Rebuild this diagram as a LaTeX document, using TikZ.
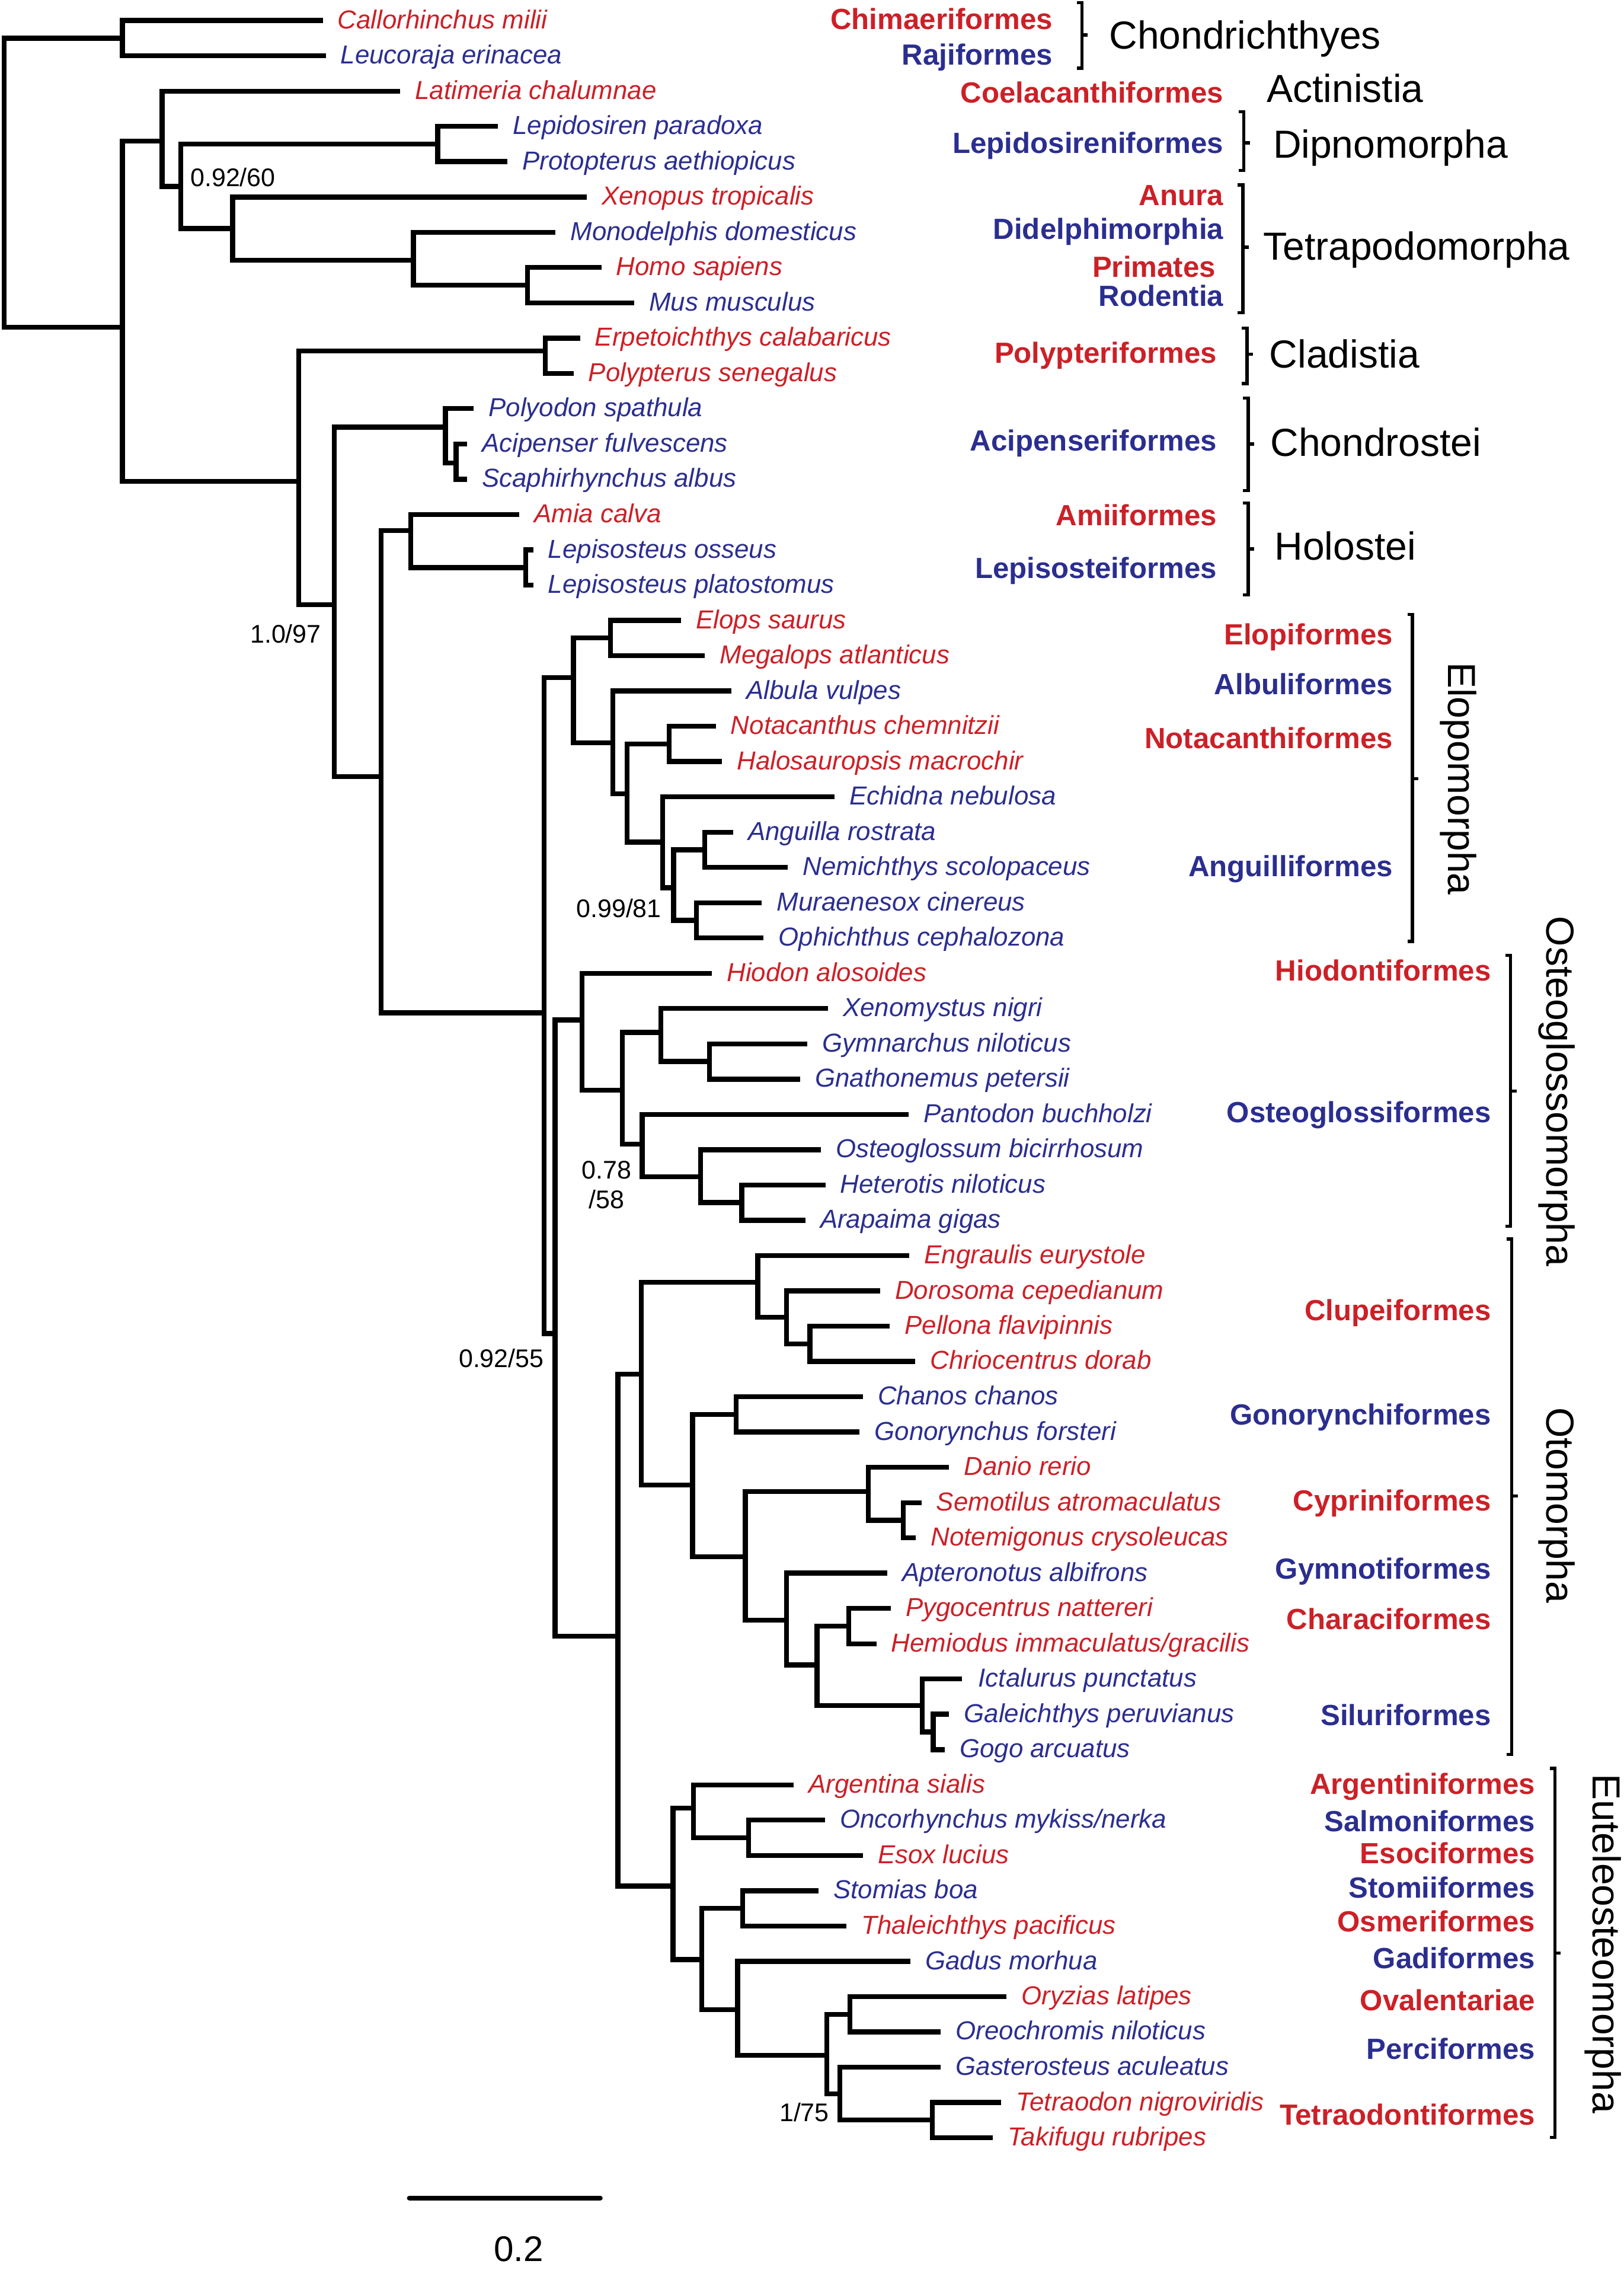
\documentclass[tikz,border=0pt]{standalone}
\usepackage{fontspec}
\setmainfont{Liberation Sans}
\usetikzlibrary{positioning}
\definecolor{sred}{RGB}{204,32,39}
\definecolor{sblue}{RGB}{43,46,143}
\tikzset{%
    br/.style={line width=0.085cm},
    brk/.style={line width=0.055cm},
    sp/.style={font=\fontsize{12.7}{15}\selectfont\itshape, inner sep=0pt, text height=7.82pt, text depth=0pt},
    spr/.style={sp, text=sred},
    spb/.style={sp, text=sblue},
    ord/.style={font=\fontsize{14.25}{17}\selectfont\bfseries, inner sep=0pt, anchor=base east},
    ordr/.style={ord, text=sred},
    ordb/.style={ord, text=sblue},
    cla/.style={font=\fontsize{19.1}{23}\selectfont, inner sep=0pt, anchor=base west},
    clv/.style={font=\fontsize{19.1}{23}\selectfont, inner sep=0pt, rotate=-90},
    sup/.style={font=\fontsize{12.45}{14.44}\selectfont, inner sep=0pt},
}
\begin{document}
\begin{tikzpicture}[x=0.025cm, y=-0.025cm]
    \useasboundingbox (0,0) rectangle (1115,1565.6);
    % tips
    \coordinate (Cmil) at (221.7,14.1);
    \coordinate (Leri) at (223.7,38.3);
    \coordinate (Lcha) at (274.8,62.6);
    \coordinate (Lpar) at (342,86.8);
    \coordinate (Paet) at (348.5,111.0);
    \coordinate (Xtro) at (403,135.3);
    \coordinate (Mdom) at (381.5,159.5);
    \coordinate (Hsap) at (413,183.7);
    \coordinate (Mmus) at (435.5,207.9);
    \coordinate (Ecal) at (398.4,232.2);
    \coordinate (Psen) at (393.9,256.4);
    \coordinate (Pspa) at (325.3,280.6);
    \coordinate (Aful) at (320.8,304.9);
    \coordinate (Salb) at (320.8,329.1);
    \coordinate (Acal) at (356.6,353.3);
    \coordinate (Loss) at (366.2,377.6);
    \coordinate (Lpla) at (366.2,401.8);
    \coordinate (Esau) at (467.7,426.0);
    \coordinate (Matl) at (484.1,450.2);
    \coordinate (Avul) at (502.3,474.5);
    \coordinate (Nche) at (491.6,498.7);
    \coordinate (Hmac) at (496.0,522.9);
    \coordinate (Eneb) at (573.1,547.2);
    \coordinate (Aros) at (503.5,571.4);
    \coordinate (Nsco) at (541.1,595.6);
    \coordinate (Mcin) at (523.2,619.9);
    \coordinate (Ocep) at (524.4,644.1);
    \coordinate (Halo) at (489,668.3);
    \coordinate (Xnig) at (568.6,692.5);
    \coordinate (Gnil) at (554.6,716.8);
    \coordinate (Gpet) at (549.6,741.0);
    \coordinate (Pbuc) at (624.1,765.2);
    \coordinate (Obic) at (563.7,789.5);
    \coordinate (Hnil) at (566.9,813.7);
    \coordinate (Agig) at (553.1,837.9);
    \coordinate (Eeur) at (624.6,862.2);
    \coordinate (Dcep) at (604.4,886.4);
    \coordinate (Pfla) at (611.1,910.6);
    \coordinate (Cdor) at (628.6,934.8);
    \coordinate (Ccha) at (592.6,959.1);
    \coordinate (Gfor) at (590.4,983.3);
    \coordinate (Drer) at (651.8,1007.5);
    \coordinate (Satr) at (632.8,1031.8);
    \coordinate (Ncry) at (629.1,1056.0);
    \coordinate (Aalb) at (609.3,1080.2);
    \coordinate (Pnat) at (611.8,1104.5);
    \coordinate (Himm) at (601.9,1128.7);
    \coordinate (Ipun) at (660.5,1152.9);
    \coordinate (Gper) at (651.8,1177.1);
    \coordinate (Garc) at (648.8,1201.4);
    \coordinate (Asia) at (545.2,1225.6);
    \coordinate (Omyk) at (566.6,1249.8);
    \coordinate (Eluc) at (592.6,1274.1);
    \coordinate (Sboa) at (562.2,1298.3);
    \coordinate (Tpac) at (581.4,1322.5);
    \coordinate (Gmor) at (625.3,1346.8);
    \coordinate (Olat) at (691.2,1371.0);
    \coordinate (Onil) at (646.1,1395.2);
    \coordinate (Gacu) at (646.1,1419.4);
    \coordinate (Tnig) at (687.7,1443.7);
    \coordinate (Trub) at (681.8,1467.9);
    % species names
    \node[spr, right=0.25cm of Cmil] (nCmil) {Callorhinchus milii};
    \node[spb, right=0.25cm of Leri] (nLeri) {Leucoraja erinacea};
    \node[spr, right=0.25cm of Lcha] (nLcha) {Latimeria chalumnae};
    \node[spb, right=0.25cm of Lpar] (nLpar) {Lepidosiren paradoxa};
    \node[spb, right=0.25cm of Paet] (nPaet) {Protopterus aethiopicus};
    \node[spr, right=0.25cm of Xtro] (nXtro) {Xenopus tropicalis};
    \node[spb, right=0.25cm of Mdom] (nMdom) {Monodelphis domesticus};
    \node[spr, right=0.25cm of Hsap] (nHsap) {Homo sapiens};
    \node[spb, right=0.25cm of Mmus] (nMmus) {Mus musculus};
    \node[spr, right=0.25cm of Ecal] (nEcal) {Erpetoichthys calabaricus};
    \node[spr, right=0.25cm of Psen] (nPsen) {Polypterus senegalus};
    \node[spb, right=0.25cm of Pspa] (nPspa) {Polyodon spathula};
    \node[spb, right=0.25cm of Aful] (nAful) {Acipenser fulvescens};
    \node[spb, right=0.25cm of Salb] (nSalb) {Scaphirhynchus albus};
    \node[spr, right=0.25cm of Acal] (nAcal) {Amia calva};
    \node[spb, right=0.25cm of Loss] (nLoss) {Lepisosteus osseus};
    \node[spb, right=0.25cm of Lpla] (nLpla) {Lepisosteus platostomus};
    \node[spr, right=0.25cm of Esau] (nEsau) {Elops saurus};
    \node[spr, right=0.25cm of Matl] (nMatl) {Megalops atlanticus};
    \node[spb, right=0.25cm of Avul] (nAvul) {Albula vulpes};
    \node[spr, right=0.25cm of Nche] (nNche) {Notacanthus chemnitzii};
    \node[spr, right=0.25cm of Hmac] (nHmac) {Halosauropsis macrochir};
    \node[spb, right=0.25cm of Eneb] (nEneb) {Echidna nebulosa};
    \node[spb, right=0.25cm of Aros] (nAros) {Anguilla rostrata};
    \node[spb, right=0.25cm of Nsco] (nNsco) {Nemichthys scolopaceus};
    \node[spb, right=0.25cm of Mcin] (nMcin) {Muraenesox cinereus};
    \node[spb, right=0.25cm of Ocep] (nOcep) {Ophichthus cephalozona};
    \node[spr, right=0.25cm of Halo] (nHalo) {Hiodon alosoides};
    \node[spb, right=0.25cm of Xnig] (nXnig) {Xenomystus nigri};
    \node[spb, right=0.25cm of Gnil] (nGnil) {Gymnarchus niloticus};
    \node[spb, right=0.25cm of Gpet] (nGpet) {Gnathonemus petersii};
    \node[spb, right=0.25cm of Pbuc] (nPbuc) {Pantodon buchholzi};
    \node[spb, right=0.25cm of Obic] (nObic) {Osteoglossum bicirrhosum};
    \node[spb, right=0.25cm of Hnil] (nHnil) {Heterotis niloticus};
    \node[spb, right=0.25cm of Agig] (nAgig) {Arapaima gigas};
    \node[spr, right=0.25cm of Eeur] (nEeur) {Engraulis eurystole};
    \node[spr, right=0.25cm of Dcep] (nDcep) {Dorosoma cepedianum};
    \node[spr, right=0.25cm of Pfla] (nPfla) {Pellona flavipinnis};
    \node[spr, right=0.25cm of Cdor] (nCdor) {Chriocentrus dorab};
    \node[spb, right=0.25cm of Ccha] (nCcha) {Chanos chanos};
    \node[spb, right=0.25cm of Gfor] (nGfor) {Gonorynchus forsteri};
    \node[spr, right=0.25cm of Drer] (nDrer) {Danio rerio};
    \node[spr, right=0.25cm of Satr] (nSatr) {Semotilus atromaculatus};
    \node[spr, right=0.25cm of Ncry] (nNcry) {Notemigonus crysoleucas};
    \node[spb, right=0.25cm of Aalb] (nAalb) {Apteronotus albifrons};
    \node[spr, right=0.25cm of Pnat] (nPnat) {Pygocentrus nattereri};
    \node[spr, right=0.25cm of Himm] (nHimm) {Hemiodus immaculatus/gracilis};
    \node[spb, right=0.28cm of Ipun] (nIpun) {Ictalurus punctatus};
    \node[spb, right=0.25cm of Gper] (nGper) {Galeichthys peruvianus};
    \node[spb, right=0.25cm of Garc] (nGarc) {Gogo arcuatus};
    \node[spr, right=0.25cm of Asia] (nAsia) {Argentina sialis};
    \node[spb, right=0.25cm of Omyk] (nOmyk) {Oncorhynchus mykiss/nerka};
    \node[spr, right=0.25cm of Eluc] (nEluc) {Esox lucius};
    \node[spb, right=0.25cm of Sboa] (nSboa) {Stomias boa};
    \node[spr, right=0.25cm of Tpac] (nTpac) {Thaleichthys pacificus};
    \node[spb, right=0.25cm of Gmor] (nGmor) {Gadus morhua};
    \node[spr, right=0.25cm of Olat] (nOlat) {Oryzias latipes};
    \node[spb, right=0.25cm of Onil] (nOnil) {Oreochromis niloticus};
    \node[spb, right=0.25cm of Gacu] (nGacu) {Gasterosteus aculeatus};
    \node[spr, right=0.25cm of Tnig] (nTnig) {Tetraodon nigroviridis};
    \node[spr, right=0.25cm of Trub] (nTrub) {Takifugu rubripes};
    % inner nodes
    \coordinate (root) at (2.9,125);
    \coordinate (Chon) at (84,26.2);
    \coordinate (Oste) at (84,224.7);
    \coordinate (Sarc) at (111.3,96.9);
    \coordinate (DiTe) at (124.2,128);
    \coordinate (Dipn) at (300.6,98.9);
    \coordinate (Tetr) at (159.8,157);
    \coordinate (Amni) at (284,178.6);
    \coordinate (Euar) at (362.3,195.8);
    \coordinate (Acti) at (205.2,330.6);
    \coordinate (Clad) at (374.5,241);
    \coordinate (Actp) at (229.7,415.2);
    \coordinate (Chos) at (305.9,293.3);
    \coordinate (Acip) at (313.3,318);
    \coordinate (Neop) at (261.7,533.3);
    \coordinate (Holo) at (282,364.2);
    \coordinate (Lepi) at (361.1,389.7);
    \coordinate (Tele) at (373.8,695.5);
    \coordinate (Elop) at (393.9,465.2);
    \coordinate (Elpf) at (419.3,438.1);
    \coordinate (Eb) at (420.8,510);
    \coordinate (Ec) at (430.6,545);
    \coordinate (Nota) at (459.6,510.8);
    \coordinate (Angu) at (455.1,578.2);
    \coordinate (Ab) at (462.6,609.6);
    \coordinate (Ac) at (484.1,583.5);
    \coordinate (Ad) at (478.4,632);
    \coordinate (Oscl) at (381.2,915.7);
    \coordinate (Ostm) at (399.7,700.4);
    \coordinate (Ob) at (427.3,748.6);
    \coordinate (Oc) at (454,708.9);
    \coordinate (Oe) at (487.2,728.9);
    \coordinate (Od) at (441.1,785.7);
    \coordinate (Of) at (481.1,808);
    \coordinate (Og) at (509.4,825.8);
    \coordinate (Clce) at (424.4,1123.6);
    \coordinate (Otom) at (440.4,943.5);
    \coordinate (Clup) at (520.5,880.4);
    \coordinate (Cb) at (540.3,904.5);
    \coordinate (Cc) at (556.3,922.7);
    \coordinate (Osta) at (475.7,1019.6);
    \coordinate (Gony) at (505.7,971.2);
    \coordinate (Otop) at (511.9,1069);
    \coordinate (Cypr) at (596.3,1024.1);
    \coordinate (Cyb) at (620.4,1043.9);
    \coordinate (Chph) at (540.3,1112.4);
    \coordinate (Chb) at (561.2,1143.3);
    \coordinate (Chrf) at (583,1116.6);
    \coordinate (Silu) at (633.5,1171.1);
    \coordinate (Sib) at (640.9,1189.3);
    \coordinate (Eute) at (462.2,1295.1);
    \coordinate (Prot) at (476.2,1241.6);
    \coordinate (Saes) at (514.1,1262);
    \coordinate (Neot) at (482,1345.6);
    \coordinate (Stom) at (510.1,1310.4);
    \coordinate (Nb) at (506.6,1380);
    \coordinate (Perc) at (567.8,1411.4);
    \coordinate (Pb) at (583.7,1383.1);
    \coordinate (Pc) at (576.7,1437.7);
    \coordinate (Tetd) at (640.2,1455.8);
    % branches
    \draw[br] (Cmil) -| (Chon) |- (Leri);
    \draw[br] (Chon) -| (root) |- (Oste);
    \draw[br] (Sarc) -| (Oste) |- (Acti);
    \draw[br] (Lcha) -| (Sarc) |- (DiTe);
    \draw[br] (Dipn) -| (DiTe) |- (Tetr);
    \draw[br] (Lpar) -| (Dipn) |- (Paet);
    \draw[br] (Xtro) -| (Tetr) |- (Amni);
    \draw[br] (Mdom) -| (Amni) |- (Euar);
    \draw[br] (Hsap) -| (Euar) |- (Mmus);
    \draw[br] (Clad) -| (Acti) |- (Actp);
    \draw[br] (Ecal) -| (Clad) |- (Psen);
    \draw[br] (Chos) -| (Actp) |- (Neop);
    \draw[br] (Pspa) -| (Chos) |- (Acip);
    \draw[br] (Aful) -| (Acip) |- (Salb);
    \draw[br] (Holo) -| (Neop) |- (Tele);
    \draw[br] (Acal) -| (Holo) |- (Lepi);
    \draw[br] (Loss) -| (Lepi) |- (Lpla);
    \draw[br] (Elop) -| (Tele) |- (Oscl);
    \draw[br] (Elpf) -| (Elop) |- (Eb);
    \draw[br] (Esau) -| (Elpf) |- (Matl);
    \draw[br] (Avul) -| (Eb) |- (Ec);
    \draw[br] (Nota) -| (Ec) |- (Angu);
    \draw[br] (Nche) -| (Nota) |- (Hmac);
    \draw[br] (Eneb) -| (Angu) |- (Ab);
    \draw[br] (Ac) -| (Ab) |- (Ad);
    \draw[br] (Aros) -| (Ac) |- (Nsco);
    \draw[br] (Mcin) -| (Ad) |- (Ocep);
    \draw[br] (Ostm) -| (Oscl) |- (Clce);
    \draw[br] (Halo) -| (Ostm) |- (Ob);
    \draw[br] (Oc) -| (Ob) |- (Od);
    \draw[br] (Xnig) -| (Oc) |- (Oe);
    \draw[br] (Gnil) -| (Oe) |- (Gpet);
    \draw[br] (Pbuc) -| (Od) |- (Of);
    \draw[br] (Obic) -| (Of) |- (Og);
    \draw[br] (Hnil) -| (Og) |- (Agig);
    \draw[br] (Otom) -| (Clce) |- (Eute);
    \draw[br] (Clup) -| (Otom) |- (Osta);
    \draw[br] (Eeur) -| (Clup) |- (Cb);
    \draw[br] (Dcep) -| (Cb) |- (Cc);
    \draw[br] (Pfla) -| (Cc) |- (Cdor);
    \draw[br] (Gony) -| (Osta) |- (Otop);
    \draw[br] (Ccha) -| (Gony) |- (Gfor);
    \draw[br] (Cypr) -| (Otop) |- (Chph);
    \draw[br] (Drer) -| (Cypr) |- (Cyb);
    \draw[br] (Satr) -| (Cyb) |- (Ncry);
    \draw[br] (Aalb) -| (Chph) |- (Chb);
    \draw[br] (Chrf) -| (Chb) |- (Silu);
    \draw[br] (Pnat) -| (Chrf) |- (Himm);
    \draw[br] (Ipun) -| (Silu) |- (Sib);
    \draw[br] (Gper) -| (Sib) |- (Garc);
    \draw[br] (Prot) -| (Eute) |- (Neot);
    \draw[br] (Asia) -| (Prot) |- (Saes);
    \draw[br] (Omyk) -| (Saes) |- (Eluc);
    \draw[br] (Stom) -| (Neot) |- (Nb);
    \draw[br] (Sboa) -| (Stom) |- (Tpac);
    \draw[br] (Gmor) -| (Nb) |- (Perc);
    \draw[br] (Pb) -| (Perc) |- (Pc);
    \draw[br] (Olat) -| (Pb) |- (Onil);
    \draw[br] (Gacu) -| (Pc) |- (Tetd);
    \draw[br] (Tnig) -| (Tetd) |- (Trub);
    % support values
    \node[sup, anchor=base west] (s1) at (130.5,128) {0.92/60};
    \node[sup, anchor=base east] (s2) at (220.8,441.3) {1.0/97};
    \node[sup, anchor=base east] (s3) at (454.5,629.8) {0.99/81};
    \node[sup, align=center] (s4) at (416.6,813.6) {0.78\\/58};
    \node[sup, anchor=base east] (s5) at (373.8,939) {0.92/55};
    \node[sup, anchor=base east] (s6) at (569.7,1456.8) {1/75};
    % orders
    \node[ordr] (oChi) at (723.3,20.0) {Chimaeriformes};
    \node[ordb] (oRaj) at (723.3,44.6) {Rajiformes};
    \node[ordr] (oCoe) at (840.5,70.8) {Coelacanthiformes};
    \node[ordb] (oLep) at (840.5,105.3) {Lepidosireniformes};
    \node[ordr] (oAnu) at (840.5,140.9) {Anura};
    \node[ordb] (oDid) at (840.5,164.4) {Didelphimorphia};
    \node[ordr] (oPri) at (835.2,190.4) {Primates};
    \node[ordb] (oRod) at (840.5,210.4) {Rodentia};
    \node[ordr] (oPol) at (835.9,249.2) {Polypteriformes};
    \node[ordb] (oAci) at (835.9,309.4) {Acipenseriformes};
    \node[ordr] (oAmi) at (835.9,360.7) {Amiiformes};
    \node[ordb] (oLps) at (835.9,397.1) {Lepisosteiformes};
    \node[ordr] (oElo) at (956.8,442.8) {Elopiformes};
    \node[ordb] (oAlb) at (956.8,477) {Albuliformes};
    \node[ordr] (oNot) at (956.8,514) {Notacanthiformes};
    \node[ordb] (oAng) at (956.8,601.8) {Anguilliformes};
    \node[ordr] (oHio) at (1024.3,673.7) {Hiodontiformes};
    \node[ordb] (oOst) at (1024.3,770.8) {Osteoglossiformes};
    \node[ordr] (oClu) at (1024.3,906.6) {Clupeiformes};
    \node[ordb] (oGon) at (1024.3,978.5) {Gonorynchiformes};
    \node[ordr] (oCyp) at (1024.3,1037.5) {Cypriniformes};
    \node[ordb] (oGym) at (1024.3,1084.4) {Gymnotiformes};
    \node[ordr] (oCha) at (1024.3,1118.9) {Characiformes};
    \node[ordb] (oSil) at (1024.3,1184.9) {Siluriformes};
    \node[ordr] (oArg) at (1054.7,1231.9) {Argentiniformes};
    \node[ordb] (oSal) at (1054.7,1257.6) {Salmoniformes};
    \node[ordr] (oEso) at (1054.7,1279.6) {Esociformes};
    \node[ordb] (oSto) at (1054.7,1303.3) {Stomiiformes};
    \node[ordr] (oOsm) at (1054.7,1326.6) {Osmeriformes};
    \node[ordb] (oGad) at (1054.7,1351.5) {Gadiformes};
    \node[ordr] (oOva) at (1054.7,1380.6) {Ovalentariae};
    \node[ordb] (oPer) at (1054.7,1413.8) {Perciformes};
    \node[ordr] (oTet) at (1054.7,1459.1) {Tetraodontiformes};
    % brackets
    \draw[brk] (739.6,1.8) -| (743.1,46.8) -- (739.6,46.8) (743.1,24.1) -- (747.1,24.1);
    \draw[brk] (850.8,76.7) -| (854.3,117.1) -- (850.8,117.1) (854.3,98.1) -- (858.3,98.1);
    \draw[brk] (850.1,127) -| (853.6,214.7) -- (850.1,214.7) (853.6,169.8) -- (857.6,169.8);
    \draw[brk] (853,225.4) -| (856.5,263.4) -- (853,263.4) (856.5,243.3) -- (860.5,243.3);
    \draw[brk] (853.7,273.3) -| (857.2,336.9) -- (853.7,336.9) (857.2,304.9) -- (861.2,304.9);
    \draw[brk] (853.7,345.5) -| (857.2,408.6) -- (853.7,408.6) (857.2,377) -- (861.2,377);
    \draw[brk] (966.6,421.9) -| (970.1,646.4) -- (966.6,646.4) (970.1,534.6) -- (974.1,534.6);
    \draw[brk] (1034,656) -| (1037.5,842.1) -- (1034,842.1) (1037.5,749.2) -- (1041.5,749.2);
    \draw[brk] (1034.8,850.8) -| (1038.3,1204.7) -- (1034.8,1204.7) (1038.3,1027.3) -- (1042.3,1027.3);
    \draw[brk] (1064.5,1214.3) -| (1068,1467.7) -- (1064.5,1467.7) (1068,1341) -- (1072,1341);
    % groups
    \node[cla] (gChi) at (761.5,33.4) {Chondrichthyes};
    \node[cla] (gAct) at (869.8,70.1) {Actinistia};
    \node[cla] (gDip) at (874.1,108.3) {Dipnomorpha};
    \node[cla] (gTet) at (867.3,178.6) {Tetrapodomorpha};
    \node[cla] (gCla) at (871.6,252.7) {Cladistia};
    \node[cla] (gChs) at (872.3,313.4) {Chondrostei};
    \node[cla] (gHol) at (875.1,384.3) {Holostei};
    \node[clv] (gElo) at (1001.8,534.6) {Elopomorpha};
    \node[clv] (gOst) at (1069.2,749.4) {Osteoglossomorpha};
    \node[clv] (gOto) at (1069.2,1033.6) {Otomorpha};
    \node[clv] (gEut) at (1101,1334.7) {Euteleosteomorpha};
    % scale
    \coordinate (sa) at (281.2,1509.3);
    \coordinate (sb) at (412.2,1509.3);
    \draw[br, line cap=round] (sa) -- (sb);
    \node[font=\fontsize{17.4}{20}\selectfont, inner sep=0pt, anchor=base] (sc) at (356.2,1552.6) {0.2};
\end{tikzpicture}
\end{document}
